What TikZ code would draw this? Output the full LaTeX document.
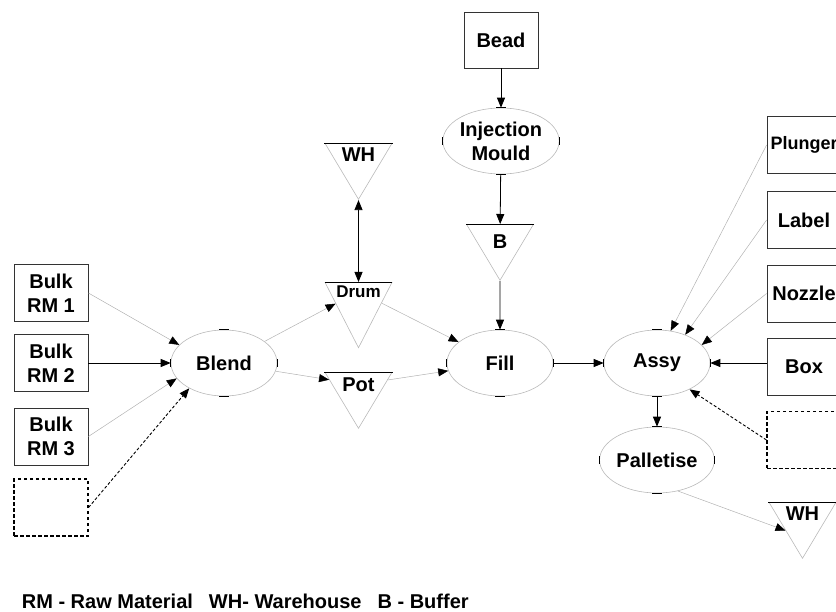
\documentclass[tikz,border=0pt]{standalone}
\usepackage{fontspec}
\setmainfont{Liberation Sans}
\usetikzlibrary{shapes}
\usetikzlibrary{positioning}
\usetikzlibrary{arrows.meta}
\tikzset{
    stockbox/.style = {rectangle, draw=black!80, line width=0.8pt, minimum width=74pt, minimum height=57pt, align=center, inner sep=0pt},
    stockboxd/.style = {rectangle, draw=black, line width=1.1pt, dash pattern=on 3.5pt off 2.5pt, minimum width=74pt, minimum height=57pt},
    procnode/.style = {ellipse, draw=gray!55, line width=0.6pt, minimum width=106pt, minimum height=66pt, align=center, inner sep=0pt},
    bufnode/.style = {isosceles triangle, shape border rotate=270, isosceles triangle stretches, draw=gray!55, line width=0.6pt, minimum width=67pt, minimum height=56pt, inner sep=0pt, anchor=north},
    edgen/.style = {-{Triangle[length=10pt,width=8pt]}, line width=0.8pt, black},
    edgenn/.style = {{Triangle[length=10pt,width=8pt]}-{Triangle[length=10pt,width=8pt]}, line width=0.8pt, black},
    edgeg/.style = {-{Triangle[length=10pt,width=8pt,color=black]}, line width=0.5pt, gray!60}, % light flow
    edged/.style = {-{Triangle[length=10pt,width=8pt]}, line width=0.9pt, black, dash pattern=on 3pt off 2pt}, % spare
    every picture/.style={font issue=\bfseries\fontsize{20}{24}},
    font issue/.style={execute at begin picture={#1\selectfont}}
}
% connection points on the process ellipses
\newcommand{\conpts}[1]{%
  \draw[black,line width=1pt] ([xshift=-5pt]#1.north) -- ([xshift=5pt]#1.north)
    ([xshift=-5pt]#1.south) -- ([xshift=5pt]#1.south)
    ([yshift=-4pt]#1.west) -- ([yshift=4pt]#1.west)
    ([yshift=-4pt]#1.east) -- ([yshift=4pt]#1.east);}
% black top edge of a buffer triangle
\newcommand{\buftop}[1]{\draw[black,line width=1pt] (#1.left corner) -- (#1.right corner);}

\begin{document}
\begin{tikzpicture}[x=1pt,y=-1pt]
\useasboundingbox (0,0) rectangle (836,612);
\clip (0,0) rectangle (836,612);
\node[stockbox] at (51,293) (rm1) {Bulk\\RM 1};
\node[stockbox] at (51,363) (rm2) {Bulk\\RM 2};
\node[stockbox] at (51,436.5) (rm3) {Bulk\\RM 3};
\node[stockboxd] at (51,507.5) (spare1) {};
\node[procnode] at (224,363) (blend) {Blend};
\node[bufnode] at (358.5,143) (wh1) {WH};
\node[bufnode, font=\bfseries\fontsize{17}{20}\selectfont] at (358.5,282) (drum) {Drum};
\node[bufnode] at (358.5,372) (pot) {Pot};
\node[stockbox, minimum height=56pt] at (501,40) (bead) {Bead};
\node[procnode] at (501,141) (mould) {Injection\\Mould};
\node[bufnode] at (500,224) (buff) {B};
\node[procnode] at (500,363) (fill) {Fill};
\node[procnode] at (657,363) (assy) {Assy};
\node[procnode] at (657,460) (pall) {Palletise};
\node[stockbox, font=\bfseries\fontsize{18}{22}\selectfont] at (804,145) (plunger) {Plunger};
\node[stockbox] at (804,220) (lbl) {Label};
\node[stockbox] at (804,293.5) (nozzle) {Nozzle};
\node[stockbox] at (804,367) (box) {Box};
\node[stockboxd] at (804,440) (spare2) {};
\node[bufnode] at (802.5,502) (wh2) {WH};
\node[anchor=base west] at (15,608) (legend) {RM - Raw Material\hspace{16pt}WH- Warehouse\hspace{16pt}B - Buffer};
\foreach \n in {blend,mould,fill,assy,pall} {\conpts{\n}}
\foreach \n in {wh1,drum,pot,buff,wh2} {\buftop{\n}}
\draw (rm1.east) edge[edgeg] (blend.158);
\draw (rm2) edge[edgen] (blend);
\draw (rm3.east) edge[edgeg] (blend.198);
\draw (spare1.east) edge[edged] (blend.216);
\draw (blend) edge[edgeg] (drum);
\draw (blend) edge[edgeg] (pot);
\draw (wh1) edge[edgenn] (drum);
\draw (drum) edge[edgeg] (fill);
\draw (pot) edge[edgeg] (fill);
\draw (bead) edge[edgen] (mould);
\draw (mould) edge[edgen] (buff);
\draw (buff) edge[edgen] (fill);
\draw (fill) edge[edgen] (assy);
\draw (box.west |- assy) edge[edgen] (assy);
\draw (plunger.west) edge[edgeg] (assy.67);
\draw (lbl.west) edge[edgeg] (assy.45);
\draw (nozzle.west) edge[edgeg] (assy.22);
\draw (spare2.west) edge[edged] (assy.-39);
\draw (assy) edge[edgen] (pall);
\draw (pall.-56) edge[edgeg] (wh2.right side);
\end{tikzpicture}
\end{document}
